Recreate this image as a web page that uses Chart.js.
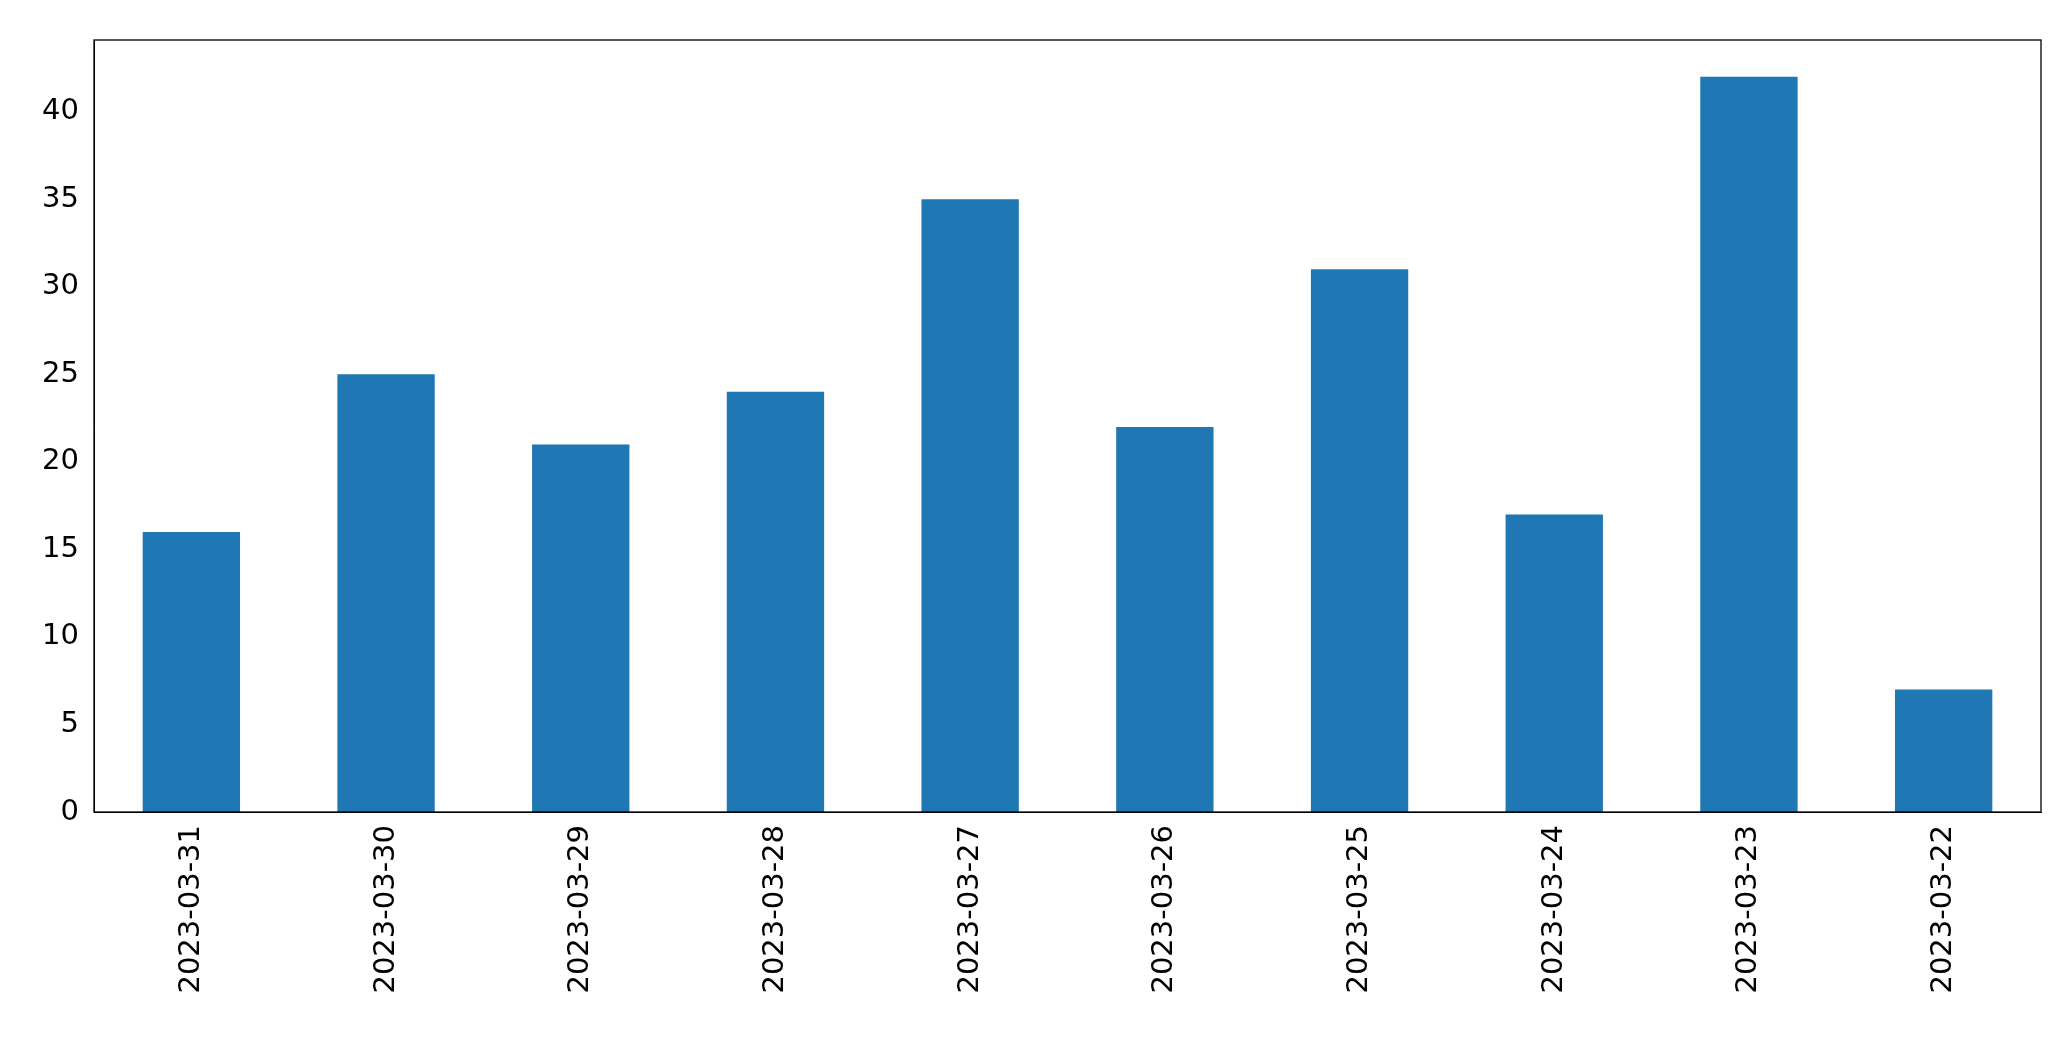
<!DOCTYPE html>
<html><head><meta charset="utf-8">
<script src="https://cdn.jsdelivr.net/npm/chart.js@4"></script>
<style>html,body{margin:0;padding:0;background:#fff}#w{width:2071px;height:1061px}</style>
</head><body><div id="w"><canvas id="c"></canvas></div>
<script>
const categories = ["2023-03-31","2023-03-30","2023-03-29","2023-03-28","2023-03-27","2023-03-26","2023-03-25","2023-03-24","2023-03-23","2023-03-22"];
const values = [16,25,21,24,35,22,31,17,42,7];
const yTicks = [0,5,10,15,20,25,30,35,40];
const border = {id:'border',afterDraw(ch){const a=ch.chartArea,x=ch.ctx;x.save();x.strokeStyle='#000';x.lineWidth=1.3;x.strokeRect(a.left,a.top,a.right-a.left,a.bottom-a.top);x.restore();}};
new Chart(document.getElementById('c'),{
  type:'bar',
  data:{labels:categories,datasets:[{data:values,backgroundColor:'#1f77b4',barPercentage:0.5,categoryPercentage:1}]},
  options:{responsive:true,maintainAspectRatio:false,animation:false,
    layout:{padding:{top:40,right:30,left:0,bottom:0}},
    plugins:{legend:{display:false},tooltip:{enabled:false}},
    scales:{
      x:{offset:true,grid:{display:false,drawTicks:true,tickLength:9,tickColor:'#000'},border:{color:'#000'},
        ticks:{color:'#000',font:{family:'DejaVu Sans',size:29},minRotation:90,maxRotation:90,padding:4},
        afterFit(s){s.height=249;}},
      y:{min:0,max:44.1,grid:{display:false,drawTicks:true,tickLength:9,tickColor:'#000'},border:{color:'#000'},
        afterBuildTicks(s){s.ticks=yTicks.map(v=>({value:v}));},
        ticks:{color:'#000',font:{family:'DejaVu Sans',size:29},padding:6},
        afterFit(s){s.width=94;}}
    }},
  plugins:[border]
});
</script></body></html>
